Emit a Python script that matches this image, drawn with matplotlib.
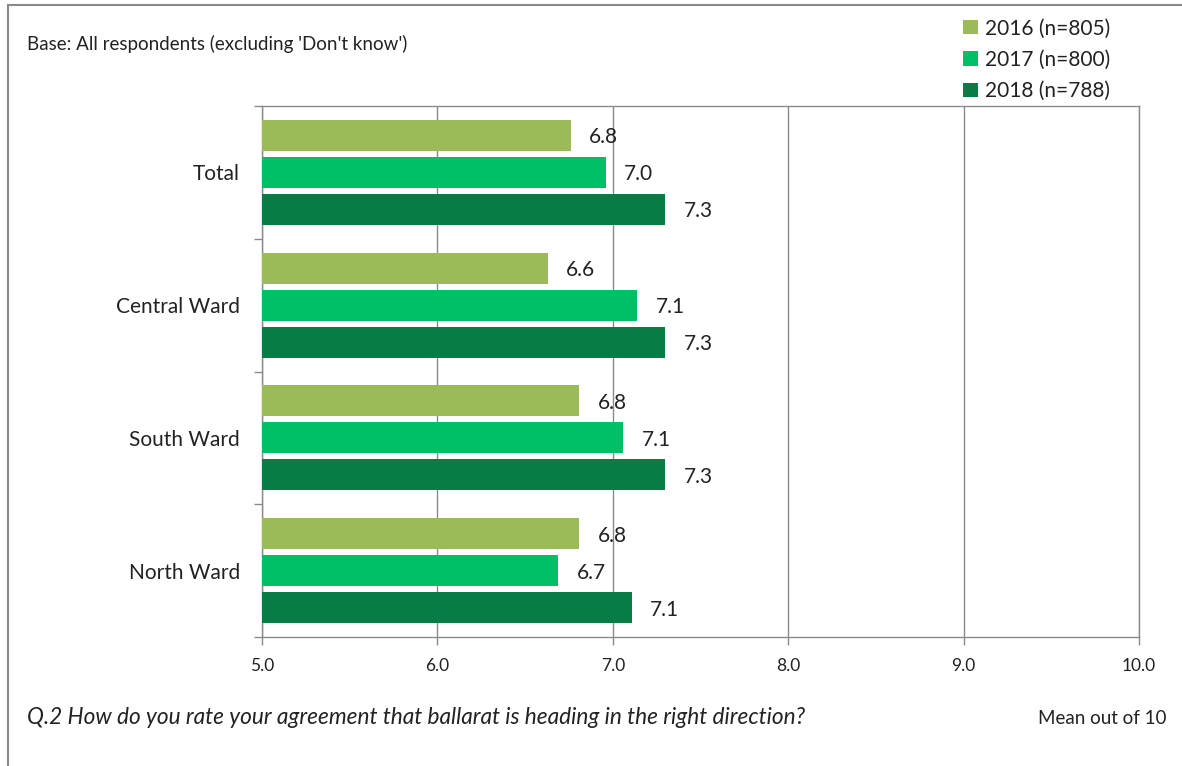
"""Mean agreement rating, Ballarat heading in the right direction (horizontal grouped bars)."""

import matplotlib.pyplot as plt
import numpy as np
from matplotlib.lines import Line2D

categorias = ["Total", "Central Ward", "South Ward", "North Ward"]
series = ["2016 (n=805)", "2017 (n=800)", "2018 (n=788)"]
valores_2016 = [6.76, 6.63, 6.81, 6.81]
valores_2017 = [6.96, 7.14, 7.06, 6.69]
valores_2018 = [7.30, 7.30, 7.30, 7.11]
etiquetas_x = ["5.0", "6.0", "7.0", "8.0", "9.0", "10.0"]

VERDE_CLARO, VERDE, VERDE_OSC = "#9bbb59", "#00c066", "#077d45"
GRIS = "#8a8a8a"

plt.rcParams.update({
    "font.family": ["Lato", "DejaVu Sans"],
    "text.color": "#222222",
    "xtick.color": GRIS,
    "ytick.color": GRIS,
    "xtick.labelcolor": "#222222",
    "ytick.labelcolor": "#222222",
})

W, H = 1182, 766
fig = plt.figure(figsize=(W / 100, H / 100), dpi=100)
ax = fig.add_axes([262 / W, 1 - 637 / H, (1139 - 262) / W, (637 - 106) / H])

y = np.arange(len(categorias))
alto, paso = 0.234, 0.279
colores = [VERDE_CLARO, VERDE, VERDE_OSC]
datos = [valores_2016, valores_2017, valores_2018]
for i, (vals, col, nombre) in enumerate(zip(datos, colores, series)):
    barras = ax.barh(y + (i - 1) * paso, np.array(vals) - 5, left=5, height=alto,
                     color=col, label=nombre, zorder=3)
    for b, v in zip(barras, vals):
        ax.annotate(f"{v:.1f}", (v, b.get_y() + b.get_height() / 2),
                    xytext=(13, -1.5), textcoords="offset points",
                    ha="left", va="center", fontsize=15, zorder=4)

ax.set_xlim(5, 10)
ax.set_ylim(len(categorias) - 0.5, -0.5)
ax.set_xticks(np.arange(5, 11))
ax.set_xticklabels(etiquetas_x, fontsize=12.5)
ax.tick_params(axis="x", length=6, width=1, pad=9)
ax.set_yticks(y)
ax.set_yticklabels(categorias, fontsize=15)
ax.tick_params(axis="y", which="major", length=0, pad=16)
ax.set_yticks(np.arange(-0.5, len(categorias)), minor=True)
ax.tick_params(axis="y", which="minor", length=6, width=1)
ax.grid(axis="x", color=GRIS, lw=1, zorder=0)
for s in ax.spines.values():
    s.set_color(GRIS)
    s.set_linewidth(1)

handles, labels = ax.get_legend_handles_labels()
fig.legend(handles, labels, loc="upper left", bbox_to_anchor=(953 / W, 1 - 8 / H),
           frameon=False, fontsize=15, handlelength=0.7, handleheight=0.7,
           handletextpad=0.35, labelspacing=0.55, borderpad=0)

fig.text(27 / W, 1 - 44 / H, "Base: All respondents (excluding 'Don't know')",
         fontsize=13.5, va="center")
fig.text(27 / W, 1 - 718 / H,
         "Q.2 How do you rate your agreement that ballarat is heading in the right direction?",
         fontsize=16.3, style="italic", va="center")
fig.text(1167 / W, 1 - 718 / H, "Mean out of 10", fontsize=13.5, ha="right", va="center")

# marco exterior recortado (arriba e izquierda)
fig.add_artist(Line2D([8 / W, 1], [1 - 5 / H, 1 - 5 / H], color=GRIS, lw=1.5))
fig.add_artist(Line2D([8 / W, 8 / W], [0, 1 - 5 / H], color=GRIS, lw=1.5))

fig.savefig("out.png", dpi=100)
